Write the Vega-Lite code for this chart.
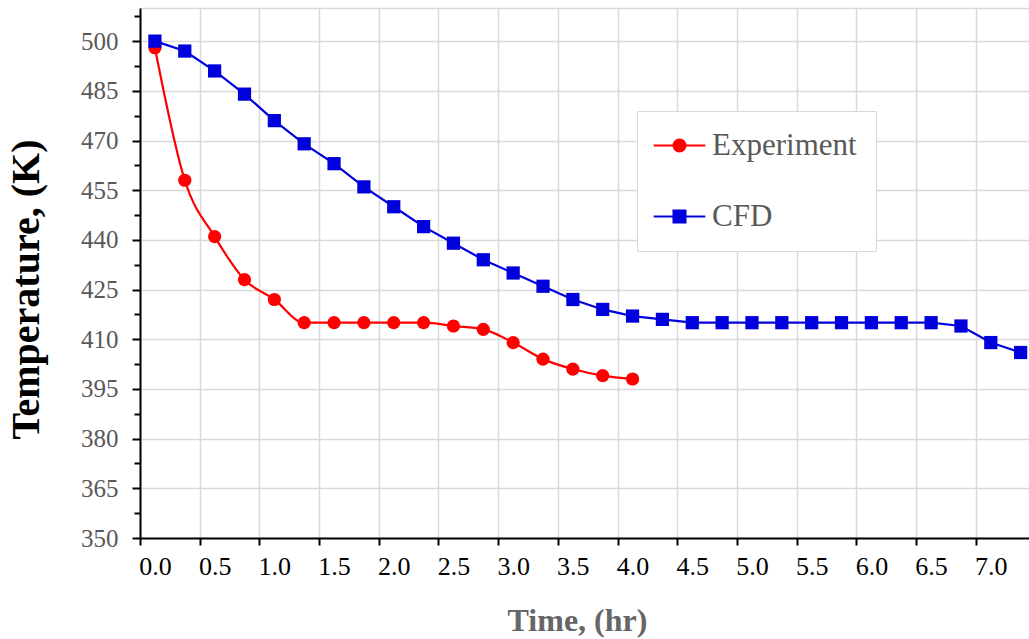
{
  "$schema": "https://vega.github.io/schema/vega-lite/v6.json",
  "width": 889,
  "height": 530,
  "autosize": {"type": "none"},
  "padding": {"left": 140, "top": 8, "right": 0, "bottom": 101},
  "background": "white",
  "config": {"view": {"stroke": null}, "font": "Liberation Serif"},
  "data": {
    "values": [
      {"t": 0, "temp": 498, "series": "Experiment"},
      {"t": 0.25, "temp": 458, "series": "Experiment"},
      {"t": 0.5, "temp": 441, "series": "Experiment"},
      {"t": 0.75, "temp": 428, "series": "Experiment"},
      {"t": 1.0, "temp": 422, "series": "Experiment"},
      {"t": 1.25, "temp": 415, "series": "Experiment"},
      {"t": 1.5, "temp": 415, "series": "Experiment"},
      {"t": 1.75, "temp": 415, "series": "Experiment"},
      {"t": 2.0, "temp": 415, "series": "Experiment"},
      {"t": 2.25, "temp": 415, "series": "Experiment"},
      {"t": 2.5, "temp": 414, "series": "Experiment"},
      {"t": 2.75, "temp": 413, "series": "Experiment"},
      {"t": 3.0, "temp": 409, "series": "Experiment"},
      {"t": 3.25, "temp": 404, "series": "Experiment"},
      {"t": 3.5, "temp": 401, "series": "Experiment"},
      {"t": 3.75, "temp": 399, "series": "Experiment"},
      {"t": 4.0, "temp": 398, "series": "Experiment"},
      {"t": 0, "temp": 500, "series": "CFD"},
      {"t": 0.25, "temp": 497, "series": "CFD"},
      {"t": 0.5, "temp": 491, "series": "CFD"},
      {"t": 0.75, "temp": 484, "series": "CFD"},
      {"t": 1.0, "temp": 476, "series": "CFD"},
      {"t": 1.25, "temp": 469, "series": "CFD"},
      {"t": 1.5, "temp": 463, "series": "CFD"},
      {"t": 1.75, "temp": 456, "series": "CFD"},
      {"t": 2.0, "temp": 450, "series": "CFD"},
      {"t": 2.25, "temp": 444, "series": "CFD"},
      {"t": 2.5, "temp": 439, "series": "CFD"},
      {"t": 2.75, "temp": 434, "series": "CFD"},
      {"t": 3.0, "temp": 430, "series": "CFD"},
      {"t": 3.25, "temp": 426, "series": "CFD"},
      {"t": 3.5, "temp": 422, "series": "CFD"},
      {"t": 3.75, "temp": 419, "series": "CFD"},
      {"t": 4.0, "temp": 417, "series": "CFD"},
      {"t": 4.25, "temp": 416, "series": "CFD"},
      {"t": 4.5, "temp": 415, "series": "CFD"},
      {"t": 4.75, "temp": 415, "series": "CFD"},
      {"t": 5.0, "temp": 415, "series": "CFD"},
      {"t": 5.25, "temp": 415, "series": "CFD"},
      {"t": 5.5, "temp": 415, "series": "CFD"},
      {"t": 5.75, "temp": 415, "series": "CFD"},
      {"t": 6.0, "temp": 415, "series": "CFD"},
      {"t": 6.25, "temp": 415, "series": "CFD"},
      {"t": 6.5, "temp": 415, "series": "CFD"},
      {"t": 6.75, "temp": 414, "series": "CFD"},
      {"t": 7.0, "temp": 409, "series": "CFD"},
      {"t": 7.25, "temp": 406, "series": "CFD"}
    ]
  },
  "encoding": {
    "x": {
      "field": "t",
      "type": "quantitative",
      "scale": {"domain": [-0.125, 7.32], "nice": false, "zero": false},
      "axis": {
        "title": "Time, (hr)",
        "values": [0, 0.5, 1, 1.5, 2, 2.5, 3, 3.5, 4, 4.5, 5, 5.5, 6, 6.5, 7],
        "format": ".1f",
        "tickOffset": -15,
        "labelOffset": 15,
        "tickSize": 7,
        "tickWidth": 2,
        "tickColor": "black",
        "domainColor": "black",
        "domainWidth": 2,
        "grid": true,
        "gridColor": "#d9d9d9",
        "gridWidth": 1.5,
        "labelFont": "Liberation Serif",
        "labelFontSize": 26,
        "labelColor": "black",
        "labelPadding": 8,
        "labelFlush": false,
        "labelOverlap": false,
        "titleFont": "Liberation Serif",
        "titleFontSize": 32,
        "titleFontWeight": "bold",
        "titleColor": "#666666",
        "titleX": 437,
        "titleY": 82,
        "titleAlign": "center",
        "titleBaseline": "middle",
        "titleAnchor": null
      }
    },
    "y": {
      "field": "temp",
      "type": "quantitative",
      "scale": {"domain": [350, 510], "nice": false, "zero": false},
      "axis": {
        "title": "Temperature, (K)",
        "values": [350, 357.5, 365, 372.5, 380, 387.5, 395, 402.5, 410, 417.5, 425, 432.5, 440, 447.5, 455, 462.5, 470, 477.5, 485, 492.5, 500, 507.5, 510],
        "labelExpr": "(datum.value - 350) % 15 === 0 ? datum.label : ''",
        "grid": true,
        "gridColor": {"condition": {"test": "(datum.value - 350) % 15 === 0 || datum.value === 510", "value": "#d9d9d9"}, "value": "transparent"},
        "gridWidth": 1.5,
        "tickSize": {"condition": {"test": "(datum.value - 350) % 15 === 0", "value": 8}, "value": 6},
        "tickColor": {"condition": {"test": "datum.value === 510", "value": "transparent"}, "value": "black"},
        "tickWidth": 2,
        "domainColor": "black",
        "domainWidth": 2,
        "labelFont": "Liberation Serif",
        "labelFontSize": 25,
        "labelColor": "#595959",
        "labelPadding": 14,
        "labelFlush": false,
        "labelOverlap": false,
        "titleFont": "Liberation Serif",
        "titleFontSize": 40,
        "titleFontWeight": "bold",
        "titleColor": "black",
        "titleX": -114,
        "titleY": 281,
        "titleAlign": "center",
        "titleBaseline": "middle",
        "titleAngle": -90,
        "titleAnchor": null
      }
    }
  },
  "layer": [
    {
      "transform": [{"filter": "datum.series === 'Experiment'"}],
      "mark": {"type": "line", "interpolate": "monotone", "strokeWidth": 2.2},
      "encoding": {
        "color": {
          "field": "series",
          "type": "nominal",
          "scale": {"domain": ["Experiment", "CFD"], "range": ["#FF0000", "#0000DD"]},
          "legend": {
            "orient": "none",
            "legendX": 497,
            "legendY": 103,
            "title": null,
            "labelFont": "Liberation Serif",
            "labelFontSize": 31,
            "labelColor": "#595959",
            "strokeColor": "#d9d9d9",
            "fillColor": "white",
            "padding": 19,
            "rowPadding": 39,
            "symbolSize": 144,
            "symbolOffset": 8,
            "labelOffset": 17,
            "symbolStrokeWidth": 2,
            "encode": {
              "symbols": {
                "update": {
                  "shape": {"signal": "datum.value === 'CFD' ? 'M-4.3,0H4.3M-1,-1H1V1H-1Z' : 'M-4.3,0H4.3M-1,0A1,1,0,1,0,1,0A1,1,0,1,0,-1,0Z'"},
                  "fill": {"signal": "datum.value === 'CFD' ? '#0000DD' : '#FF0000'"},
                  "stroke": {"signal": "datum.value === 'CFD' ? '#0000DD' : '#FF0000'"},
                  "strokeWidth": {"value": 2},
                  "opacity": {"value": 1},
                  "fillOpacity": {"value": 1}
                }
              }
            }
          }
        }
      }
    },
    {
      "transform": [{"filter": "datum.series === 'CFD'"}],
      "mark": {"type": "line", "strokeWidth": 2.2},
      "encoding": {"color": {"field": "series", "type": "nominal", "legend": null}}
    },
    {
      "transform": [{"filter": "datum.series === 'Experiment'"}],
      "mark": {"type": "point", "shape": "circle", "filled": true, "opacity": 1, "size": 175},
      "encoding": {"color": {"field": "series", "type": "nominal", "legend": null}}
    },
    {
      "transform": [{"filter": "datum.series === 'CFD'"}],
      "mark": {"type": "point", "shape": "square", "filled": true, "opacity": 1, "size": 175},
      "encoding": {"color": {"field": "series", "type": "nominal", "legend": null}}
    }
  ]
}
